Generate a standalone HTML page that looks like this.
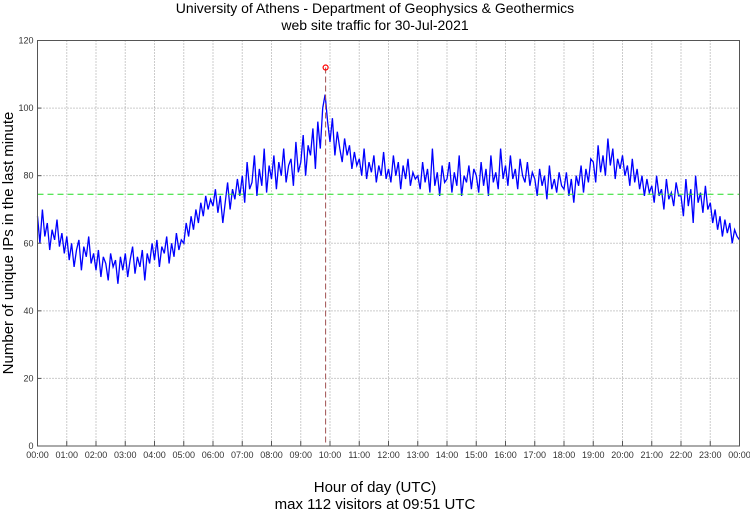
<!DOCTYPE html>
<html><head><meta charset="utf-8"><style>
body{margin:0;background:#fff;font-family:"Liberation Sans",sans-serif}
svg text{font-family:"Liberation Sans",sans-serif}
</style></head><body>
<svg id="c" width="750" height="511">
<text x="375" y="13" text-anchor="middle" font-size="14">University of Athens - Department of Geophysics &amp; Geothermics</text>
<text x="375" y="30" text-anchor="middle" font-size="14">web site traffic for 30-Jul-2021</text>
<text transform="translate(13,243) rotate(-90)" text-anchor="middle" font-size="15">Number of unique IPs in the last minute</text>
<text x="375" y="492" text-anchor="middle" font-size="15">Hour of day (UTC)</text>
<text x="375" y="509" text-anchor="middle" font-size="15">max 112 visitors at 09:51 UTC</text>
<g id="grid"></g><g id="plot"></g><g id="axes"></g>
</svg>
<script>
const yTicks=[0,20,40,60,80,100,120];
const xTickLabels=["00:00","01:00","02:00","03:00","04:00","05:00","06:00","07:00","08:00","09:00","10:00","11:00","12:00","13:00","14:00","15:00","16:00","17:00","18:00","19:00","20:00","21:00","22:00","23:00","00:00"];
const meanValue=74.5;
const maxValue=112;
const maxMinute=591;
const visitors=[
68,60,70,62,66,58,64,61,67,59,63,57,
62,55,60,53,58,61,52,59,56,62,54,57,
52,58,50,56,54,49,57,53,55,48,56,52,
57,50,55,59,51,56,53,58,49,57,54,60,
55,61,53,59,57,62,54,60,56,63,58,61,
60,66,62,68,64,70,66,72,68,74,70,73,
71,76,69,74,66,72,78,70,76,73,79,74,
80,72,84,76,78,86,74,82,77,88,75,83,
79,86,76,84,80,88,78,83,85,77,90,81,
84,92,80,89,86,94,82,96,88,100,104,96,
90,97,86,93,88,84,91,86,89,82,87,83,
85,80,88,79,84,81,86,78,83,80,87,79,
82,78,86,80,84,76,83,79,85,77,81,79,
80,76,84,78,82,75,88,77,81,74,83,78,
79,84,75,81,77,86,74,80,78,83,76,82,
80,75,84,77,82,74,86,78,81,76,88,79,
83,77,86,79,82,76,85,80,78,84,77,81,
79,74,82,77,80,73,83,76,79,75,81,77,
76,81,74,79,72,80,77,83,75,82,78,85,
84,78,89,81,86,80,91,83,88,79,85,82,
86,80,83,77,85,78,82,76,80,74,79,75,
77,72,80,74,76,70,79,73,75,71,78,74,
74,68,79,71,76,66,80,72,75,69,77,70,
72,66,70,64,68,62,67,63,66,60,64,62,61];
const L=37.5,R=739.5,T=40.5,B=446;
const X=m=>L+(R-L)*m/1440;
const Y=v=>B-(B-T)*v/120;
const NS="http://www.w3.org/2000/svg";
function mk(p,t,a){const e=document.createElementNS(NS,t);for(const k in a)e.setAttribute(k,a[k]);p.appendChild(e);return e;}
const grid=document.getElementById('grid'),plot=document.getElementById('plot'),axes=document.getElementById('axes');
yTicks.forEach(v=>{
 if(v>0&&v<120){const g=mk(grid,'line',{x1:L,x2:R,y1:Y(v),y2:Y(v),stroke:'#999','stroke-dasharray':'1,2'});
 
 }
 const t=mk(axes,'text',{x:L-4,y:Y(v)+3,'text-anchor':'end','font-size':9,fill:'#333'});t.textContent=v;
 
 
 mk(axes,'line',{x1:L,x2:L+4,y1:Y(v),y2:Y(v),stroke:'#555'});
});
xTickLabels.forEach((s,i)=>{
 const x=X(i*60);
 if(i>0&&i<24){const g=mk(grid,'line',{x1:x,x2:x,y1:T,y2:B,stroke:'#999','stroke-dasharray':'1,2'});
 
 }
 mk(axes,'line',{x1:x,x2:x,y1:B,y2:B-5,stroke:'#555'});
 const t=mk(axes,'text',{x:x,y:B+12,'text-anchor':'middle','font-size':9,fill:'#333'});t.textContent=s;
 
 
});
const step=1440/(visitors.length-1);
const pts=visitors.map((v,i)=>X(i*step).toFixed(1)+','+Y(v).toFixed(1)).join(' ');
const ln=mk(plot,'polyline',{points:pts,fill:'none',stroke:'#0000ff','stroke-width':1.3});


const ml=mk(plot,'line',{x1:L,x2:R,y1:Y(meanValue),y2:Y(meanValue),stroke:'#22dd22','stroke-dasharray':'6,4'});


const vl=mk(plot,'line',{x1:X(maxMinute),x2:X(maxMinute),y1:Y(maxValue),y2:B,stroke:'#a05050','stroke-dasharray':'6,3'});


const mc=mk(plot,'circle',{cx:X(maxMinute),cy:Y(maxValue),r:2.5,fill:'none',stroke:'#ff0000','stroke-width':1.2});


const fr=mk(axes,'rect',{x:L,y:T,width:R-L,height:B-T,fill:'none',stroke:'#555'});


</script>
</body></html>
